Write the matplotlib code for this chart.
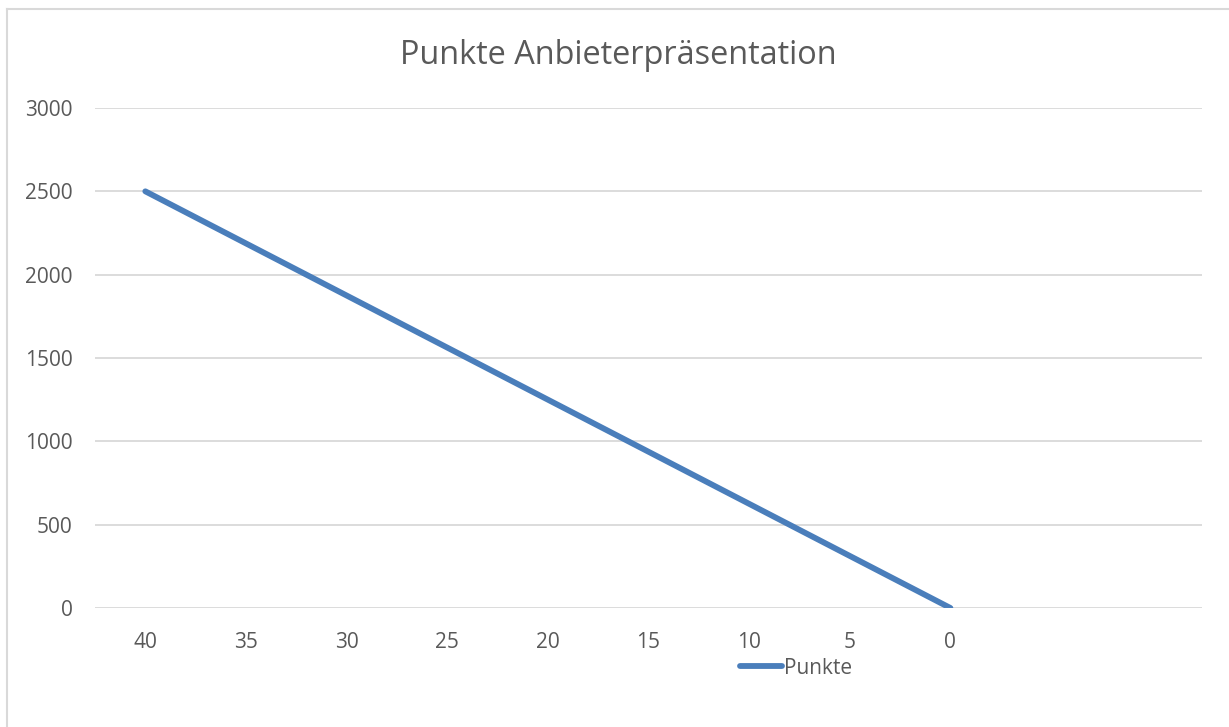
import matplotlib
matplotlib.use("Agg")
import matplotlib.pyplot as plt
from matplotlib.lines import Line2D

# categories on the x axis (last two slots have no label)
kategorien = ["40", "35", "30", "25", "20", "15", "10", "5", "0", "", ""]
punkte = [2500, 2187.5, 1875, 1562.5, 1250, 937.5, 625, 312.5, 0]

W, H = 1229, 727
plt.rcParams['font.family'] = ['Open Sans', 'DejaVu Sans']
grau = "#595959"

fig = plt.figure(figsize=(W / 100, H / 100), dpi=100)
ax = fig.add_axes([95 / W, (H - 608) / H, (1202 - 95) / W, (608 - 108) / H])

x = list(range(len(punkte)))
ax.plot(x, punkte, color="#4A7EBB", lw=4.2, solid_capstyle="round", label="Punkte")

ax.set_xlim(-0.5, len(kategorien) - 0.5)
ax.set_ylim(0, 3000)
ax.set_xticks(range(len(kategorien)))
ax.set_xticklabels(kategorien)
ax.set_yticks([0, 500, 1000, 1500, 2000, 2500, 3000])
ax.tick_params(axis="both", length=0, labelsize=15, labelcolor=grau)
ax.tick_params(axis="x", pad=17)
ax.tick_params(axis="y", pad=16)
ax.grid(axis="y", color="#D9D9D9", lw=1.3)
ax.set_axisbelow(True)
for s in ax.spines.values():
    s.set_visible(False)

fig.text(618 / W, 1 - 55 / H, "Punkte Anbieterpräsentation", ha="center", va="center",
         fontsize=23.4, color=grau)

ax.legend(loc="center", bbox_to_anchor=(796 / W, 1 - 668 / H), bbox_transform=fig.transFigure,
          frameon=False, fontsize=15, handlelength=2.0, handletextpad=0.1, labelcolor=grau)

# chart area border (top and left edges visible)
fig.add_artist(Line2D([7 / W, 1], [1 - 9 / H, 1 - 9 / H], transform=fig.transFigure, color="#D9D9D9", lw=1.5))
fig.add_artist(Line2D([7 / W, 7 / W], [0, 1 - 9 / H], transform=fig.transFigure, color="#D9D9D9", lw=1.5))

fig.savefig("out.png", dpi=100)
